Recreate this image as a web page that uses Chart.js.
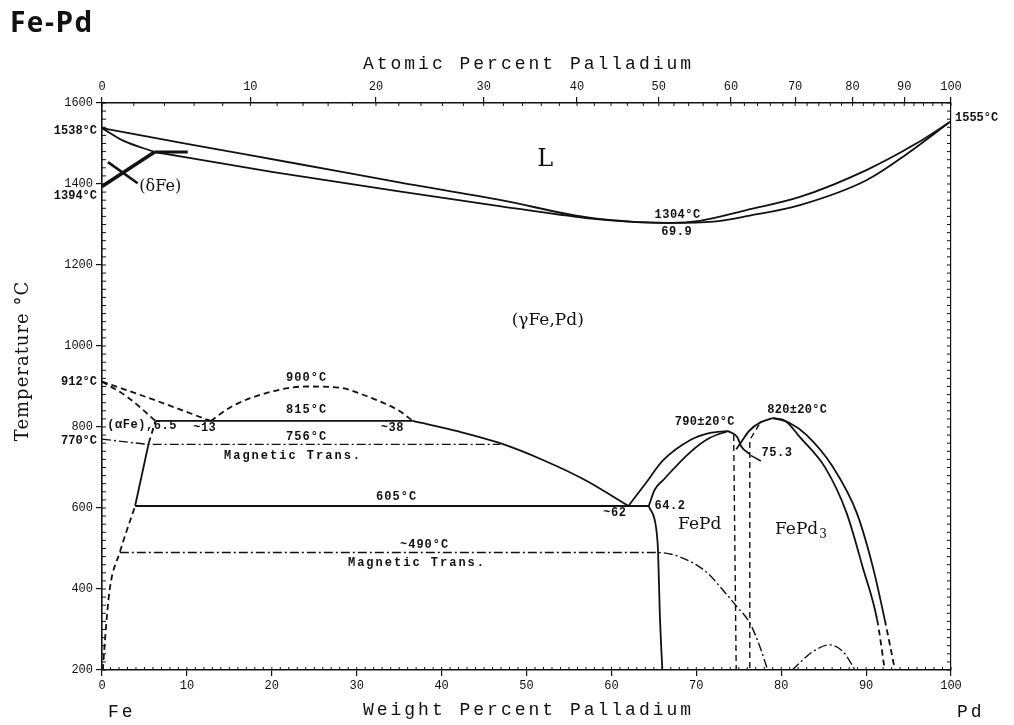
<!DOCTYPE html>
<html>
<head>
<meta charset="utf-8">
<script src="https://cdn.jsdelivr.net/npm/chart.js@4.4.1/dist/chart.umd.min.js"></script>
<style>
  html, body { margin: 0; padding: 0; background: #fff; }
  #wrap { position: relative; width: 1014px; height: 725px; }
</style>
</head>
<body>
<div id="wrap"><canvas id="chart" width="1014" height="725"></canvas></div>
<script>
// x = weight % Pd, y = temperature in °C
const weightTicks = [0, 10, 20, 30, 40, 50, 60, 70, 80, 90, 100];
const atomicTicks = [0, 10, 20, 30, 40, 50, 60, 70, 80, 90, 100];
const tempTicks = [200, 400, 600, 800, 1000, 1200, 1400, 1600];

// liquid / solid boundaries
const liquidus = [[0,1538],[10,1499],[23,1450],[35,1404],[47,1360],[57,1318],[63,1306],[67,1304],[70.4,1309],[76,1336],[82.2,1368],[90.1,1435],[96,1501],[100,1555]];
const solidus = [[6.2,1479],[20,1430],[35,1382],[47,1345],[57,1316],[63,1306],[67,1304],[72,1307],[76.3,1322],[82.2,1348],[90.1,1410],[94.8,1474],[100,1555]];
const deltaSolidus = [[0,1538],[2.5,1507],[6.2,1479]];
const deltaSolvus = [[0,1394],[6.2,1479]];
const peritectic = [[6.2,1479],[10.1,1479]];
const deltaLeader = [[0.7,1454],[4.2,1402]];

// alpha / gamma region
const gammaAlphaUpper = [[0,912],[6,868],[12.8,815]];
const gammaAlphaLower = [[0,912],[3,874],[6.3,815]];
const dome900 = [[12.8,815],[15.4,852],[19.4,884],[24,900],[28,897],[31.2,876],[35,840],[36.6,815]];
const eutectoid815 = [[6.3,815],[36.6,815]];
const gammaSolvus = [[36.6,815],[42,789],[46.9,760],[52,718],[57,668],[62,605]];
const alphaTop = [[5.5,760],[6.3,815]];
const alphaMid = [[3.9,605],[5.5,760]];
const alphaLow = [[0.1,200],[0.35,274],[0.9,398],[2.1,491],[3.9,605]];
const eutectoid605 = [[3.9,605],[64.4,605]];
const magnetic1 = [[0,770],[5.4,757],[46.9,757]];
const magnetic2 = [[2.1,490],[65.5,490],[68.1,479],[71.3,440],[73.1,398],[74.8,356],[76.3,316],[77.5,257],[78.4,200]];
const magnetic3 = [[81.3,200],[83.7,245],[85.7,262],[87.3,245],[88.7,200]];

// FePd and FePd3
const fePdOuter = [[62,605],[64,660],[66.1,718],[69.3,768],[71.5,785],[73.7,790]];
const fePdInner = [[64.4,605],[65.1,645],[66.1,669],[69.3,738],[71.5,772],[73.7,790]];
const fePdLow = [[64.4,605],[65.3,546],[65.5,490],[65.7,341],[66,200]];
const fePdRight = [[73.7,790],[74.8,776],[75.3,752],[76.3,733]];
const fePdRightLow = [[74.4,780],[74.7,200]];
const fePd3Left = [[74.7,745],[75.2,760],[76.2,790],[77.6,812],[79,822]];
const fePd3LeftLow = [[77.4,806],[76.3,768],[76.3,200]];
const leader753 = [[76.4,730],[77.6,716]];
const fePd3Outer = [[79,822],[81,810],[83,780],[86.1,701],[88.9,588],[90.8,454],[92.2,324],[93.4,200]];
const fePd3Inner = [[79,822],[80.5,815],[82.2,775],[85.2,699],[87.7,588],[89.6,454],[91.3,324],[92.2,200]];

const DASH = [6, 4];
const DASHDOT = [9, 3, 2, 3];
const MONO = '"Liberation Mono", "DejaVu Sans Mono", monospace';
const SERIF = '"DejaVu Serif", "Liberation Serif", serif';

function atToWt(a) {
  return 100 * a * 106.42 / (a * 106.42 + (100 - a) * 55.845);
}

function line(pts, opts) {
  return Object.assign({
    data: pts.map(p => ({ x: p[0], y: p[1] })),
    showLine: true,
    borderColor: '#111',
    borderWidth: 1.8,
    pointRadius: 0,
    fill: false,
    cubicInterpolationMode: 'monotone'
  }, opts || {});
}

const lowDash = { segment: { borderDash: c => c.p0.parsed.y <= 330 ? DASH : undefined } };

const datasets = [
  line(liquidus),
  line(solidus),
  line(deltaSolidus),
  line(deltaSolvus, { borderWidth: 3.5 }),
  line(peritectic, { borderWidth: 3 }),
  line(deltaLeader, { borderWidth: 2.5 }),
  line(gammaAlphaUpper, { borderDash: DASH }),
  line(gammaAlphaLower, { borderDash: DASH }),
  line(dome900, { borderDash: DASH }),
  line(eutectoid815),
  line(gammaSolvus),
  line(alphaTop, { borderDash: DASH }),
  line(alphaMid),
  line(alphaLow, { borderDash: DASH }),
  line(eutectoid605),
  line(magnetic1, { borderDash: DASHDOT, borderWidth: 1.4, cubicInterpolationMode: 'default', tension: 0 }),
  line(magnetic2, { borderDash: DASHDOT, borderWidth: 1.4 }),
  line(magnetic3, { borderDash: DASHDOT, borderWidth: 1.4 }),
  line(fePdOuter),
  line(fePdInner),
  line(fePdLow),
  line(fePdRight),
  line(fePdRightLow, { borderDash: DASH, borderWidth: 1.4, cubicInterpolationMode: 'default', tension: 0 }),
  line(fePd3Left),
  line(fePd3LeftLow, { borderDash: DASH, borderWidth: 1.4, cubicInterpolationMode: 'default', tension: 0 }),
  line(leader753, { borderWidth: 1.5 }),
  line(fePd3Outer, lowDash),
  line(fePd3Inner, lowDash)
];

// text written inside the diagram, placed at (wt %, °C)
const notes = [
  { t: 'L', x: 52.2, y: 1459, f: '24px ' + SERIF },
  { t: '(γFe,Pd)', x: 52.5, y: 1064, f: '17px ' + SERIF },
  { t: '(δFe)', x: 4.4, y: 1393, f: '16px ' + SERIF, a: 'left' },
  { t: '1304°C', x: 67.8, y: 1323, f: 'bold 12px ' + MONO, s: 0.5 },
  { t: '69.9', x: 67.7, y: 1282, f: 'bold 12px ' + MONO, s: 0.5 },
  { t: '900°C', x: 24.1, y: 921, f: 'bold 12px ' + MONO, s: 1 },
  { t: '815°C', x: 24.1, y: 842, f: 'bold 12px ' + MONO, s: 1 },
  { t: '756°C', x: 24.1, y: 775, f: 'bold 12px ' + MONO, s: 1 },
  { t: 'Magnetic Trans.', x: 22.5, y: 728, f: 'bold 12px ' + MONO, s: 2 },
  { t: '(αFe)', x: 2.9, y: 805, f: 'bold 12px ' + MONO, s: 0.5 },
  { t: ',6.5', x: 7.0, y: 802, f: 'bold 12px ' + MONO, s: 0.5 },
  { t: '~13', x: 12.1, y: 797, f: 'bold 12px ' + MONO, s: 0.5 },
  { t: '~38', x: 34.2, y: 797, f: 'bold 12px ' + MONO, s: 0.5 },
  { t: '605°C', x: 34.7, y: 627, f: 'bold 12px ' + MONO, s: 1 },
  { t: '~490°C', x: 38, y: 509, f: 'bold 12px ' + MONO, s: 1 },
  { t: 'Magnetic Trans.', x: 37.1, y: 464, f: 'bold 12px ' + MONO, s: 2 },
  { t: '~62', x: 60.4, y: 588, f: 'bold 12px ' + MONO, s: 0.5 },
  { t: '64.2', x: 66.9, y: 605, f: 'bold 12px ' + MONO, s: 0.5 },
  { t: 'FePd', x: 70.4, y: 560, f: '17px ' + SERIF },
  { t: '790±20°C', x: 71, y: 812, f: 'bold 12px ' + MONO, s: 0.3 },
  { t: '820±20°C', x: 81.9, y: 842, f: 'bold 12px ' + MONO, s: 0.3 },
  { t: '75.3', x: 79.5, y: 736, f: 'bold 12px ' + MONO, s: 0.5 }
];

// labels outside the frame, tied to a temperature
const sideNotes = [
  { t: '1538°C', y: 1530, side: 'left' },
  { t: '1394°C', y: 1370, side: 'left' },
  { t: '912°C', y: 910, side: 'left' },
  { t: '770°C', y: 765, side: 'left' },
  { t: '1555°C', y: 1563, side: 'right' }
];

const textPlugin = {
  id: 'phaseText',
  afterDraw(chart) {
    const ctx = chart.ctx;
    const xs = chart.scales.x, ys = chart.scales.y, top = chart.scales.x2;
    const area = chart.chartArea;
    ctx.save();
    ctx.fillStyle = '#111';
    ctx.strokeStyle = '#111';

    // minor ticks
    ctx.lineWidth = 1;
    ctx.beginPath();
    for (let t = 200; t <= 1600; t += 20) {
      const py = ys.getPixelForValue(t);
      ctx.moveTo(area.left, py); ctx.lineTo(area.left + 4, py);
      ctx.moveTo(area.right, py); ctx.lineTo(area.right - 4, py);
    }
    for (let w = 0; w <= 100; w += 1) {
      const px = xs.getPixelForValue(w);
      ctx.moveTo(px, area.bottom); ctx.lineTo(px, area.bottom - 3);
    }
    for (let a = 0; a <= 100; a += 2) {
      const px = top.getPixelForValue(atToWt(a));
      ctx.moveTo(px, area.top); ctx.lineTo(px, area.top + 3);
    }
    ctx.stroke();

    // notes inside
    ctx.textBaseline = 'middle';
    notes.forEach(n => {
      ctx.font = n.f;
      ctx.letterSpacing = (n.s || 0) + 'px';
      ctx.textAlign = n.a || 'center';
      ctx.fillText(n.t, xs.getPixelForValue(n.x), ys.getPixelForValue(n.y));
    });

    // FePd3 with subscript
    ctx.letterSpacing = '0px';
    ctx.font = '17px ' + SERIF;
    ctx.textAlign = 'left';
    const fx = xs.getPixelForValue(82.8) - 30, fy = ys.getPixelForValue(546);
    ctx.fillText('FePd', fx, fy);
    const fw = ctx.measureText('FePd').width;
    ctx.font = '12px ' + SERIF;
    ctx.fillText('3', fx + fw + 1, fy + 5);

    // notes beside the frame
    ctx.font = 'bold 12px ' + MONO;
    sideNotes.forEach(n => {
      const py = ys.getPixelForValue(n.y);
      if (n.side === 'left') {
        ctx.textAlign = 'right';
        ctx.fillText(n.t, area.left - 5, py);
      } else {
        ctx.textAlign = 'left';
        ctx.fillText(n.t, area.right + 4, py);
      }
    });

    // axis titles
    ctx.font = '18px ' + MONO;
    ctx.letterSpacing = '3px';
    ctx.textAlign = 'center';
    ctx.fillText('Atomic Percent Palladium', (area.left + area.right) / 2 + 2, 64);
    ctx.fillText('Weight Percent Palladium', (area.left + area.right) / 2 + 2, 710);
    ctx.textAlign = 'left';
    ctx.fillText('Fe', 108, 712);
    ctx.fillText('Pd', 957, 712);
    ctx.save();
    ctx.translate(23, 361);
    ctx.rotate(-Math.PI / 2);
    ctx.textAlign = 'center';
    ctx.font = '18px ' + SERIF;
    ctx.letterSpacing = '1px';
    ctx.fillText('Temperature °C', 0, 0);
    ctx.restore();

    // title
    ctx.letterSpacing = '1.5px';
    ctx.textAlign = 'left';
    ctx.textBaseline = 'alphabetic';
    ctx.font = 'bold 28px "Open Sans", "DejaVu Sans", sans-serif';
    ctx.fillText('Fe-Pd', 10, 32);
    ctx.restore();
  }
};

const tickFont = { family: MONO, size: 12 };
const axisGrid = { drawOnChartArea: false, tickLength: 6, color: '#111', lineWidth: 1.2 };
const axisBorder = { color: '#111', width: 1.6 };

new Chart(document.getElementById('chart'), {
  type: 'scatter',
  data: { datasets: datasets },
  options: {
    responsive: false,
    animation: false,
    layout: { padding: 0 },
    plugins: { legend: { display: false }, tooltip: { enabled: false } },
    scales: {
      x: {
        type: 'linear', position: 'bottom', min: 0, max: 100,
        afterBuildTicks: s => { s.ticks = weightTicks.map(v => ({ value: v })); },
        ticks: { font: tickFont, color: '#111', padding: 3, maxRotation: 0, autoSkip: false, callback: v => String(v) },
        grid: axisGrid, border: axisBorder,
        afterFit: s => { s.height = 55; }
      },
      x2: {
        type: 'linear', position: 'top', min: 0, max: 100,
        afterBuildTicks: s => { s.ticks = atomicTicks.map(a => ({ value: atToWt(a) })); },
        ticks: {
          font: tickFont, color: '#111', padding: 3, maxRotation: 0, autoSkip: false,
          callback: (v, i) => String(atomicTicks[i])
        },
        grid: axisGrid, border: axisBorder,
        afterFit: s => { s.height = 103; }
      },
      y: {
        type: 'linear', position: 'left', min: 200, max: 1600,
        afterBuildTicks: s => { s.ticks = tempTicks.map(v => ({ value: v })); },
        ticks: { font: tickFont, color: '#111', padding: 3, autoSkip: false, callback: v => String(v) },
        grid: axisGrid, border: axisBorder,
        afterFit: s => { s.width = 102; }
      },
      y2: {
        type: 'linear', position: 'right', min: 200, max: 1600,
        ticks: { display: false },
        grid: { drawOnChartArea: false, drawTicks: false },
        border: { color: '#111', width: 1.2, dash: [3, 2] },
        afterFit: s => { s.width = 63; }
      }
    }
  },
  plugins: [textPlugin]
});
</script>
</body>
</html>
